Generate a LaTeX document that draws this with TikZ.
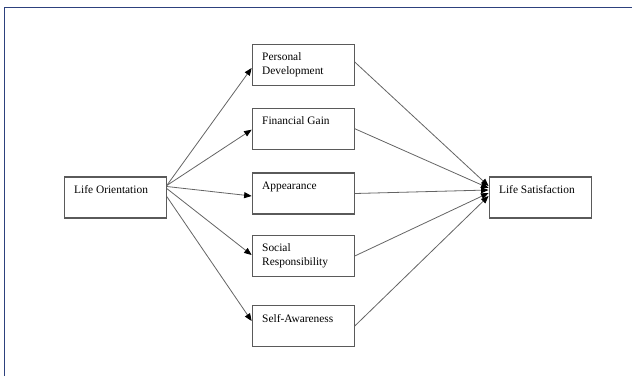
\documentclass[tikz,border=0pt]{standalone}
\usepackage{fontspec}
\setmainfont{Liberation Serif}
\usetikzlibrary{arrows.meta}

\definecolor{framecol}{RGB}{45,65,125}
\definecolor{boxgray}{RGB}{90,90,90}
\definecolor{linegray}{RGB}{100,100,100}

\newcommand{\blocktext}[1]{\parbox[t][24pt][t]{82pt}{\raggedright #1}}

\begin{document}
\begin{tikzpicture}[x=1pt, y=-1pt,
    block/.style ={draw=boxgray, line width=1.1pt, inner xsep=10pt, inner ysep=8.5pt,
      font=\fontsize{11.4}{13.3}\selectfont},
    link/.style ={draw=linegray, line width=0.8pt,
      -{Triangle[length=7.5pt,width=6pt,color=black]}}]
   \useasboundingbox (0,0) rectangle (632,376);
   \draw[framecol, line width=1.5pt] (4.5,376) -- (4.5,7.5) -- (632,7.5);

   \node[block] (lo) at (115.2,197.5) {\blocktext{Life Orientation}};
   \node[block] (pd) at (303.2,65)    {\blocktext{Personal\\Development}};
   \node[block] (fg) at (303.2,128.7) {\blocktext{Financial Gain}};
   \node[block] (ap) at (303.2,193.5) {\blocktext{Appearance}};
   \node[block] (sr) at (303.2,256)   {\blocktext{Social\\Responsibility}};
   \node[block] (sa) at (303.2,326)   {\blocktext{Self-Awareness}};
   \node[block] (ls) at (540.1,197.5) {\blocktext{Life Satisfaction}};

   \draw[link] ([yshift=12pt]lo.east) to ([yshift=-3pt]pd.west);
   \draw[link] ([yshift=12pt]lo.east) to ([yshift=-1pt]fg.west);
   \draw[link] ([yshift=11pt]lo.east) to ([yshift=-2.5pt]ap.west);
   \draw[link] ([yshift=9pt]lo.east) to ([yshift=1pt]sr.west);
   \draw[link] ([yshift=1pt]lo.east) to ([yshift=5pt]sa.west);

   \draw[link] ([yshift=3pt]pd.east) to ([yshift=11.5pt]ls.west);
   \draw[link] (fg.east) to ([yshift=9.5pt]ls.west);
   \draw[link] (ap.east) to ([yshift=7.5pt]ls.west);
   \draw[link] (sr.east) to ([yshift=4.5pt]ls.west);
   \draw[link] (sa.east) to ([yshift=1.5pt]ls.west);
 \end{tikzpicture}
\end{document}
